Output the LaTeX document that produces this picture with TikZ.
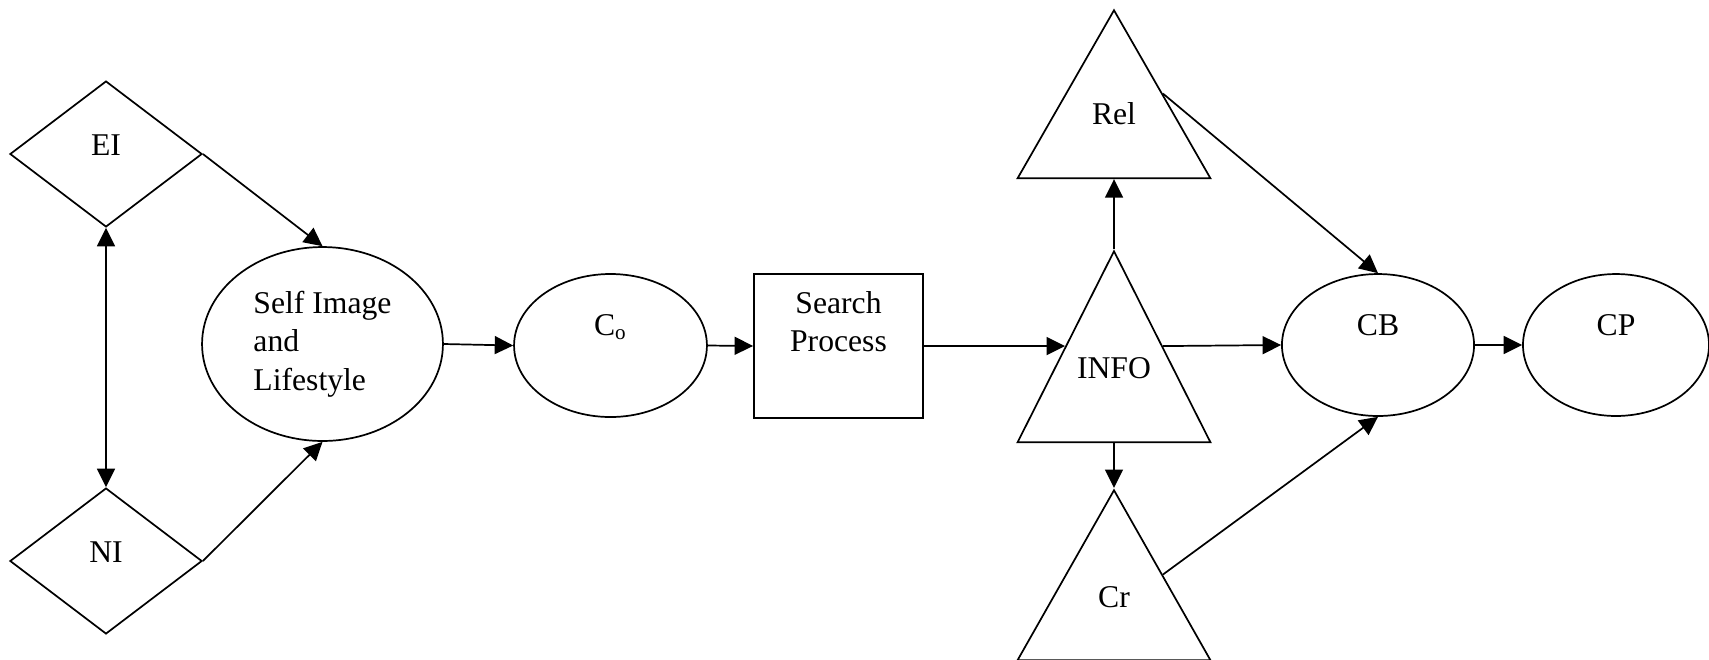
\documentclass[tikz,border=0pt]{standalone}
\usepackage{fontspec}
\setmainfont{Liberation Serif}
\usetikzlibrary{positioning}
\usetikzlibrary{calc}
\usetikzlibrary{arrows.meta}
\usetikzlibrary{shapes.geometric}
\tikzset{
dia/.style={
  diamond,
  inner sep=0pt,
  minimum width=72.8pt,
  minimum height=55.3pt,
  draw=black
  },
ell/.style={
  ellipse,
  inner sep=0pt,
  draw=black
  },
tri/.style={
  isosceles triangle,
  isosceles triangle stretches,
  shape border rotate=90,
  inner sep=0pt,
  minimum width=73.1pt,
  draw=black,
  anchor=apex
  }
}

\begin{document}
\begin{tikzpicture}[x=0.379pt,y=-0.379pt,>={Triangle[length=7pt,width=6.8pt]},line width=0.65pt,font=\fontsize{12pt}{14.5pt}\selectfont]
\useasboundingbox (0,0) rectangle (1709,659);
\node[dia,label={[yshift=3.4pt]center:EI}] (ei) at (106,154) {};
\node[dia,label={[yshift=3.4pt]center:NI}] (ni) at (106,561) {};
\node[ell,minimum width=91.3pt,minimum height=73.5pt,align=left] (self) at (322.5,344) {Self Image\\and\\Lifestyle};
\node[ell,minimum width=73.1pt,minimum height=54.2pt,label={[yshift=7pt]center:C\textsubscript{o}}] (co) at (610.5,345.5) {};
\node[rectangle,draw=black,minimum width=64.1pt,minimum height=54.6pt,label={[align=center,yshift=9.1pt]center:Search\\Process}] (search) at (838.5,346) {};
\node[tri,minimum height=63.7pt] (rel) at (1114,8) {};
\node[tri,minimum height=72.4pt] (info) at (1114,249) {};
\node[tri,minimum height=64.4pt] (cr) at (1114,488) {};
\node (relt) at ($(rel.apex)!0.62!(rel.lower side)$) {Rel};
\node (infot) at ($(info.apex)!0.615!(info.lower side)$) {INFO};
\node (crt) at ($(cr.apex)!0.63!(cr.lower side)$) {Cr};
\node[ell,minimum width=72.8pt,minimum height=53.8pt,label={[yshift=7.6pt]center:CB}] (cb) at (1378,345) {};
\node[ell,minimum width=70.5pt,minimum height=53.8pt,label={[yshift=7.6pt]center:CP}] (cp) at (1616,345) {};
\path[->]
(ei.east) edge (self.north)
(ni.east) edge (self.south)
(ei.south) edge [<->] (ni.north)
(self.east) edge (co.west)
(co.east) edge (search.west)
(search.east) edge (info.left side)
(info.apex) edge (rel.lower side)
(info.lower side) edge (cr.apex)
(info.right side) edge (cb.west)
(rel.right side) edge (cb.north)
(cr.right side) edge (cb.south)
(cb.east) edge (cp.west)
;
\end{tikzpicture}
\end{document}
